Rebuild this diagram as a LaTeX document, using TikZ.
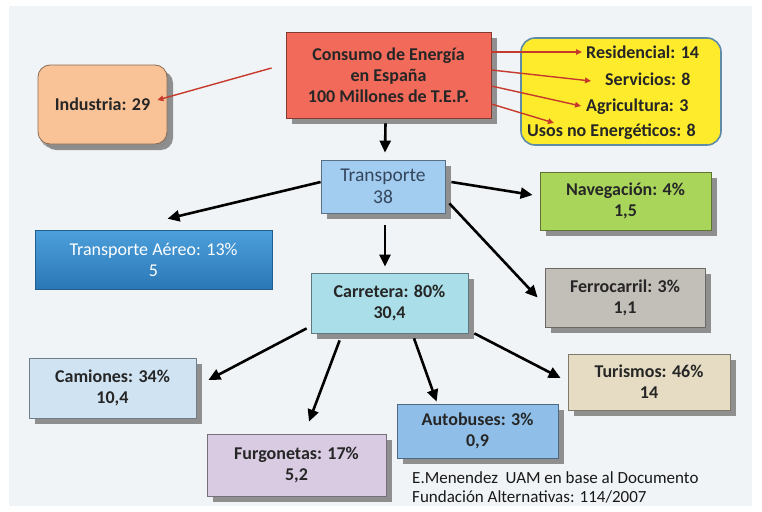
\documentclass[tikz,border=0pt]{standalone}
\usepackage{fontspec}
\setmainfont{Carlito}
\usetikzlibrary{arrows.meta}
\usetikzlibrary{shadows}

\definecolor{panelgray}{HTML}{F1F4F6}
\definecolor{consumored}{HTML}{F26A5A}
\definecolor{industriapeach}{HTML}{F9C297}
\definecolor{domyellow}{HTML}{FDEB2C}
\definecolor{domframe}{HTML}{5E8BA8}
\definecolor{transblue}{HTML}{A2CCF0}
\definecolor{transtext}{HTML}{34465C}
\definecolor{navgreen}{HTML}{A9D55A}
\definecolor{aereotop}{HTML}{4CA0DC}
\definecolor{aereobot}{HTML}{2B77B5}
\definecolor{carrcyan}{HTML}{AADEE8}
\definecolor{ferrogray}{HTML}{C2BEB8}
\definecolor{camblue}{HTML}{CFE3F3}
\definecolor{furglila}{HTML}{D9CCE2}
\definecolor{autoblue}{HTML}{8FBFE8}
\definecolor{turbeige}{HTML}{E6DCC4}
\definecolor{sharered}{HTML}{C63A2C}

\begin{document}
\begin{tikzpicture}[x=1pt,y=-1pt,
    label font/.style={font=\fontsize{18}{21}\selectfont\bfseries, text=black!85},
    box/.style={fill=#1, draw=#1!55!black, line width=0.8pt, align=center,
      inner sep=0pt, label font,
      drop shadow={shadow xshift=6pt, shadow yshift=-6pt, fill=black!48, opacity=.9}},
    share/.style={draw=sharered, line width=1.4pt, -{Triangle[length=6pt,width=5.5pt]}},
    flow/.style={draw=black, line width=2.6pt, -{Triangle[length=12pt,width=11pt]}}]

  \useasboundingbox (0,0) rectangle (762,511);
  \fill[panelgray] (9,6) rectangle (752,506);

  % total consumption and its shares
  \node[box=consumored, minimum width=205pt, minimum height=86pt,
    text=black!85] (ce) at (388.5,75)
    {Consumo de Energía\\en España\\100 Millones de T.E.P.};
  \node[box=industriapeach, rounded corners=12pt, minimum width=129pt, minimum height=79pt,
    drop shadow={shadow xshift=2pt, shadow yshift=-4pt, fill=black!45, opacity=.7}]
    (ind) at (102.5,104.5) {Industria: 29};
  \node[fill=domyellow, draw=domframe, line width=1.6pt, rounded corners=14pt,
    minimum width=200pt, minimum height=107pt] (dom) at (621,91.5) {};
  \node[label font, inner sep=2pt, anchor=west] (res) at (584,52) {Residencial: 14};
  \node[label font, inner sep=2pt, anchor=west] (ser) at (603,79) {Servicios: 8};
  \node[label font, inner sep=2pt, anchor=west] (agr) at (584,107) {Agricultura: 3};
  \node[label font, inner sep=2pt, anchor=west] (usos) at (525,132) {Usos no Energéticos: 8};

  \draw[share] ([xshift=-14pt,yshift=7pt]ce.west) -- ([xshift=-10pt,yshift=4.5pt]ind.east);
  \draw[share] ([yshift=23pt]ce.east) -- ([xshift=-2pt]res.west);
  \draw[share] ([yshift=5pt]ce.east) -- ([xshift=-12pt,yshift=-2pt]ser.west);
  \draw[share] ([yshift=-11pt]ce.east) -- ([xshift=-3pt,yshift=1pt]agr.west);
  \draw[share] ([yshift=-29pt]ce.east) -- ([xshift=29pt,yshift=-1pt]usos.north west);

  % transport
  \node[box=transblue, minimum width=124pt, minimum height=53pt,
    font=\fontsize{19.5}{22}\selectfont, text=transtext]
    (tr) at (383,186.5) {Transporte\\38};
  \node[box=navgreen, minimum width=171pt, minimum height=58pt] (nav) at (625.5,201)
    {Navegación: 4\%\\1,5};
  \node[top color=aereotop, bottom color=aereobot, draw=aereobot!80!black, line width=0.6pt,
    minimum width=237pt, minimum height=59pt, align=center, inner sep=0pt,
    font=\fontsize{18}{21}\selectfont, text=white]
    (aer) at (153.5,259.5) {Transporte Aéreo: 13\%\\5};
  \node[box=carrcyan, minimum width=157pt, minimum height=60pt] (car) at (389.5,303)
    {Carretera: 80\%\\30,4};
  \node[box=ferrogray, minimum width=160pt, minimum height=59pt] (fer) at (625,297.5)
    {Ferrocarril: 3\%\\1,1};

  \draw[flow] ([xshift=-3pt,yshift=-5pt]ce.south) -- ([xshift=2pt,yshift=7pt]tr.north);
  \draw[flow] ([yshift=4.5pt]tr.west) -- ([xshift=14pt,yshift=11pt]aer.north);
  \draw[flow] ([xshift=6pt,yshift=4.5pt]tr.east) -- ([xshift=-7pt,yshift=6pt]nav.west);
  \draw[flow] ([xshift=2pt,yshift=-12pt]tr.south) -- ([xshift=-4.5pt,yshift=6pt]car.north);
  \draw[flow] ([xshift=4pt,yshift=10pt]tr.south east) -- ([xshift=-7pt]fer.west);

  % road transport
  \node[box=camblue, minimum width=167pt, minimum height=60pt] (cam) at (112.5,388)
    {Camiones: 34\%\\10,4};
  \node[box=furglila, minimum width=179pt, minimum height=62pt] (fur) at (296.5,465)
    {Furgonetas: 17\%\\5,2};
  \node[box=autoblue, minimum width=161pt, minimum height=54pt] (aut) at (477.5,431)
    {Autobuses: 3\%\\0,9};
  \node[box=turbeige, minimum width=162pt, minimum height=56pt] (tur) at (649,382)
    {Turismos: 46\%\\14};

  \draw[flow] ([xshift=-4pt,yshift=5pt]car.south west) -- ([xshift=12pt,yshift=8pt]cam.east);
  \draw[flow] ([xshift=29pt,yshift=-7pt]car.south west) -- ([xshift=12.5pt,yshift=12pt]fur.north);
  \draw[flow] ([xshift=24.5pt,yshift=-5pt]car.south) -- ([xshift=40pt,yshift=2pt]aut.north west);
  \draw[flow] ([xshift=6pt]car.south east) -- ([xshift=-7pt,yshift=4pt]tur.west);

  \node[anchor=west, align=left, inner sep=0pt, font=\fontsize{17}{19}\selectfont,
    text=black!90] (ref) at (412,487.5)
    {E.Menendez\ \ UAM en base al Documento\\Fundación Alternativas: 114/2007};
\end{tikzpicture}
\end{document}
